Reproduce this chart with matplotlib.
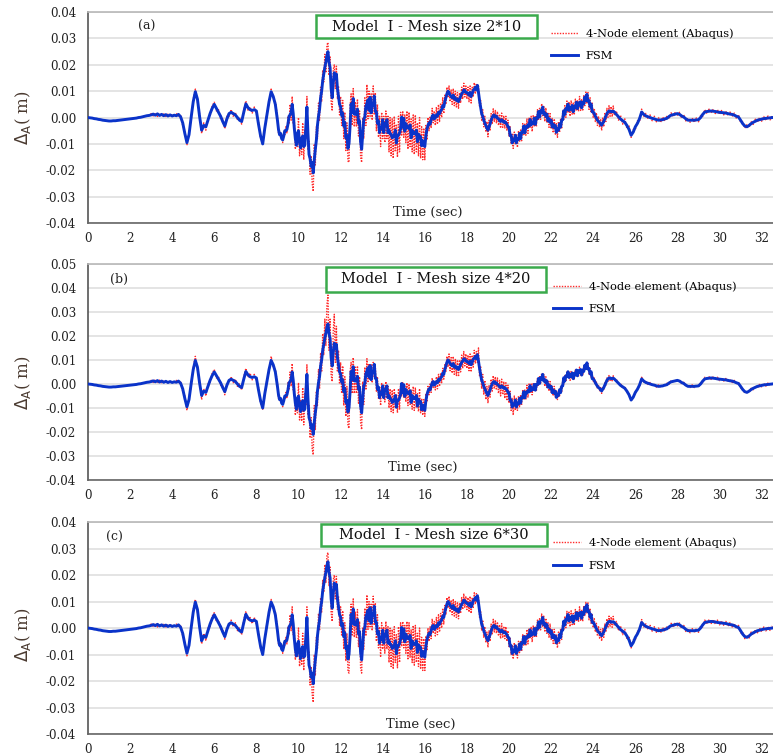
import numpy as np
import matplotlib
matplotlib.use("Agg")
import matplotlib.pyplot as plt
from matplotlib.lines import Line2D
from matplotlib.patches import Rectangle
from matplotlib.ticker import MultipleLocator, FormatStrFormatter

# Records are sampled every 0.1 s, except the strong-motion window
# 9.0-25.0 s, which is sampled every 0.05 s.
t_head = np.arange(90) * 0.1            # 0.0 .. 8.9 s
t_busy = 9.0 + np.arange(320) * 0.05    # 9.0 .. 24.95 s
t_tail = 25.0 + np.arange(76) * 0.1     # 25.0 .. 32.5 s

# ---------------- FSM displacement at point A (mm) ----------------
fsm_head = [
    0.0, -0.1, -0.2, -0.4, -0.5, -0.7, -0.8, -1.0, -1.1, -1.2,
    -1.3, -1.3, -1.2, -1.2, -1.1, -1.0, -0.9, -0.8, -0.7, -0.6,
    -0.5, -0.4, -0.3, -0.2, 0.0, 0.1, 0.3, 0.5, 0.7, 0.8,
    1.0, 1.3, 0.9, 1.4, 0.8, 1.2, 0.7, 1.1, 0.6, 1.0,
    0.6, 0.9, 0.7, 1.2, 0.3, -2.0, -6.0, -9.5, -6.5, 0.0,
    6.0, 9.8, 7.0, 0.5, -4.8, -3.0, -3.5, -1.0, 1.5, 3.5,
    5.0, 3.5, 2.0, 0.5, -1.5, -3.2, -0.5, 1.5, 2.0, 1.5,
    1.0, 0.0, -1.0, -1.5, 2.0, 5.2, 3.8, 3.0, 2.7, 3.0,
    2.5, -2.5, -7.0, -10.0, -4.0, 1.0, 6.0, 9.8, 8.0, 5.0,
]
fsm_busy = [
    -1.0, -4.5, -6.5, -6.0, -8.0, -8.5, -7.0, -5.0, -5.0, -4.5,
    -2.5, 0.5, 1.0, 2.0, 5.0, 1.5, -4.0, -8.0, -10.5, -6.0,
    -5.0, -9.5, -11.5, -8.0, -7.0, -11.0, -10.5, -3.0, 4.0, -6.0,
    -14.0, -15.5, -18.5, -17.0, -21.0, -16.0, -12.0, -8.5, -3.0, 0.5,
    3.0, 7.5, 10.0, 14.0, 16.5, 19.0, 21.0, 23.5, 25.0, 21.0,
    19.0, 11.0, 7.5, 13.0, 17.0, 15.0, 16.5, 11.0, 8.0, 5.0,
    4.2, 0.8, 1.7, -3.2, -1.8, -7.7, -6.8, -11.7, -9.8, -3.2,
    5.2, 1.8, 7.2, 1.3, 1.2, 1.3, 3.2, -2.2, -1.3, -9.2,
    -12.0, -6.2, -0.8, 0.3, 4.2, 5.3, 6.7, 2.8, 7.7, 1.8,
    5.2, 4.8, 8.2, 2.3, 2.2, -2.2, -1.3, -5.7, -3.8, -4.2,
    -0.8, -5.7, -2.3, -2.7, -0.8, -5.7, -4.8, -6.2, -6.3, -7.7,
    -7.3, -6.7, -4.8, -9.7, -6.8, -6.7, -5.8, -4.2, 0.2, -3.7,
    -0.3, -5.2, -2.3, -3.7, -3.8, -4.2, -2.8, -7.7, -4.8, -6.2,
    -5.8, -6.2, -4.8, -9.2, -6.3, -7.2, -7.3, -10.7, -8.8, -10.2,
    -11.0, -7.0, -4.5, -3.0, -2.0, -2.5, -1.0, 0.5, 1.0, -0.5,
    0.0, 1.0, 0.5, 2.0, 1.5, 2.5, 3.0, 4.5, 4.0, 6.0,
    7.5, 9.0, 10.0, 9.5, 8.5, 8.0, 7.5, 8.5, 7.0, 7.5,
    6.5, 7.0, 6.0, 7.0, 8.0, 9.0, 9.5, 10.5, 10.3, 9.5,
    9.5, 9.0, 8.5, 9.5, 8.0, 9.0, 10.3, 10.8, 11.5, 10.5,
    12.2, 9.5, 6.5, 4.0, 1.5, 0.5, -1.0, -2.0, -3.0, -4.0,
    -4.8, -3.5, -2.5, -1.0, 0.0, 0.8, 1.0, 0.2, 0.5, -0.2,
    -0.5, -1.2, -1.5, -0.8, -1.2, -1.8, -1.5, -2.0, -2.5, -3.5,
    -3.7, -6.8, -6.7, -9.6, -8.4, -8.8, -6.7, -9.6, -8.0, -8.3,
    -6.0, -8.0, -5.5, -5.6, -3.2, -5.8, -3.4, -3.8, -2.7, -3.3,
    -0.7, -2.8, -2.0, -2.3, -0.2, -2.6, -0.2, -0.3, 2.3, 0.2,
    2.6, 2.0, 4.0, 1.2, 1.8, 0.4, 1.3, -1.3, -0.4, -1.8,
    -1.0, -3.6, -2.5, -3.8, -3.0, -5.6, -4.2, -4.8, -2.4, -3.6,
    -1.0, -0.8, 2.6, 1.2, 3.4, 3.0, 5.1, 2.7, 3.8, 3.2,
    4.6, 2.2, 4.3, 3.7, 5.8, 3.4, 5.6, 4.7, 6.0, 3.7,
    5.8, 5.2, 7.8, 6.4, 8.8, 6.2, 6.4, 4.2, 5.1, 2.2,
    2.1, 1.5, 0.5, -0.2, -1.0, -1.5, -1.8, -2.5, -2.9, -2.2,
    -1.5, -0.5, 0.5, 1.5, 2.1, 2.5, 2.5, 2.2, 2.3, 2.4,
]
fsm_tail = [
    2.1, 1.2, 0.3, -0.6, -1.2, -1.8, -3.0, -4.5, -6.7, -5.5,
    -3.5, -2.2, -0.4, 2.1, 1.2, 0.6, 0.3, 0.0, -0.3, -0.5,
    -0.8, -1.0, -0.9, -0.8, -0.5, -0.3, 0.4, 0.9, 1.1, 1.3,
    1.5, 1.2, 0.6, 0.2, -0.5, -1.0, -1.0, -1.0, -1.0, -0.9,
    -0.8, 0.0, 1.2, 2.1, 2.3, 2.4, 2.5, 2.4, 2.3, 2.1,
    2.0, 1.9, 1.8, 1.7, 1.5, 1.3, 1.2, 0.9, 0.5, 0.2,
    -1.0, -2.3, -3.2, -3.5, -3.0, -2.3, -1.8, -1.4, -1.0, -0.8,
    -0.6, -0.4, -0.3, -0.2, -0.1, 0.0,
]

# ------- 4-node element (Abaqus), mesh 2*10 (mm) -------
abaqus_2x10_head = [
    0.0, -0.1, -0.2, -0.4, -0.5, -0.7, -0.8, -1.0, -1.1, -1.2,
    -1.3, -1.3, -1.2, -1.2, -1.1, -1.0, -0.9, -0.8, -0.7, -0.6,
    -0.5, -0.4, -0.3, -0.2, 0.0, 0.1, 0.3, 0.5, 0.7, 0.8,
    1.5, 0.6, 1.8, 0.4, 1.6, 0.5, 1.4, 0.4, 1.3, 0.5,
    1.2, 0.3, 1.5, 0.6, 0.8, -3.0, -5.0, -10.5, -5.5, -1.0,
    7.0, 10.8, 6.0, 1.5, -6.0, -2.0, -4.8, 0.0, 0.5, 4.5,
    5.8, 2.5, 3.0, -0.5, -0.5, -4.2, 0.5, 0.5, 3.0, 0.5,
    2.0, -1.0, 0.0, -2.5, 3.0, 6.3, 2.8, 4.0, 1.7, 4.0,
    1.5, -1.5, -8.0, -9.0, -5.0, 2.0, 5.0, 10.8, 7.0, 6.0,
]
abaqus_2x10_busy = [
    0.5, -6.0, -5.3, -7.5, -6.5, -9.5, -5.5, -6.5, -3.5, -6.0,
    0.5, -2.5, 5.0, -1.0, 8.0, -2.5, 0.0, -12.0, -6.5, -11.0,
    0.0, -14.5, -7.5, -14.0, -2.0, -16.0, -4.5, -8.0, 8.0, -12.0,
    -9.0, -21.5, -14.5, -25.0, -28.0, -10.0, -18.0, -3.5, -8.0, 5.5,
    -1.0, 11.5, 6.0, 18.0, 13.5, 24.0, 17.0, 27.5, 28.5, 16.0,
    23.0, 6.0, 2.5, 18.0, 20.0, 11.0, 19.5, 7.0, 12.0, 1.0,
    8.0, -3.0, 6.5, -8.0, 2.0, -12.5, -2.0, -16.5, -17.0, 4.0,
    9.0, -3.0, 11.0, -3.5, 6.0, -3.5, 7.0, -7.0, 2.5, -15.0,
    -17.0, 0.0, -8.0, 7.5, -3.0, 12.5, -0.5, 10.0, 0.5, 9.0,
    -1.0, 12.0, 1.0, 9.5, -5.0, 5.0, -7.5, 0.5, -11.0, 2.0,
    -8.0, 0.5, -9.5, 2.5, -8.0, 0.5, -13.0, 0.0, -14.5, -0.5,
    -15.5, 0.5, -13.0, -2.5, -15.0, 0.5, -13.0, 2.0, -7.0, 2.5,
    -7.5, 1.0, -9.5, 2.5, -12.0, 2.0, -11.0, -0.5, -13.0, 1.0,
    -14.0, 1.0, -13.0, -2.0, -14.5, 0.0, -15.5, -3.5, -16.0, -4.0,
    -16.0, -3.0, -8.5, 0.0, -5.0, 0.5, -4.0, 3.5, -2.0, 2.5,
    -3.0, 4.0, -2.5, 5.0, -1.5, 5.5, 0.0, 7.5, 1.5, 8.5,
    5.0, 11.5, 7.5, 12.0, 6.0, 10.5, 5.0, 11.0, 4.5, 10.0,
    4.0, 9.5, 3.5, 9.5, 5.5, 11.5, 7.0, 13.0, 7.8, 12.0,
    7.0, 11.5, 6.0, 12.0, 5.5, 11.5, 7.8, 13.3, 9.0, 13.0,
    9.7, 12.0, 4.0, 6.5, -1.0, 3.0, -3.5, 0.5, -5.5, -1.5,
    -7.3, -1.0, -5.0, 1.5, -2.5, 3.3, -1.5, 2.7, -2.0, 2.3,
    -3.0, 1.3, -4.0, 1.7, -3.7, 0.7, -4.0, 0.5, -5.0, -1.0,
    -7.0, -3.5, -10.0, -6.3, -11.7, -5.5, -10.0, -6.3, -11.3, -5.0,
    -9.3, -4.7, -8.8, -2.3, -6.5, -2.5, -6.7, -0.5, -6.0, 0.0,
    -4.0, 0.5, -5.3, 1.0, -3.5, 0.7, -3.5, 3.0, -1.0, 3.5,
    -0.7, 5.3, 0.7, 4.5, -1.5, 3.7, -2.0, 2.0, -3.7, 1.5,
    -4.3, -0.3, -5.8, -0.5, -6.3, -2.3, -7.5, -1.5, -5.7, -0.3,
    -4.3, 2.5, -0.7, 4.5, 0.1, 6.3, 1.8, 6.0, 0.5, 6.5,
    1.3, 5.5, 1.0, 7.0, 2.5, 6.7, 2.3, 8.0, 2.7, 7.0,
    2.5, 8.5, 4.5, 9.7, 5.5, 9.5, 3.1, 7.5, 1.8, 5.5,
    0.1, 3.5, -1.5, 1.8, -3.0, 0.5, -3.8, -0.5, -4.9, -0.2,
    -3.5, 1.5, -1.5, 3.5, 0.1, 4.5, 0.5, 4.2, 0.3, 4.4,
]
abaqus_2x10_tail = [
    0.8, 2.5, -1.0, 0.8, -2.5, -0.5, -4.2, -3.2, -7.5, -4.5,
    -4.5, -1.2, -1.4, 3.2, 0.4, 1.6, -0.5, 1.0, -1.2, 0.5,
    -1.6, 0.0, -1.8, 0.2, -1.3, 0.7, -0.4, 1.8, 0.3, 2.1,
    0.8, 2.0, -0.2, 1.0, -1.3, -0.2, -1.8, -0.2, -1.8, -0.1,
    -1.6, 0.8, 0.4, 3.0, 1.5, 3.2, 1.7, 3.2, 1.5, 3.0,
    1.2, 2.7, 1.0, 2.5, 0.7, 2.1, 0.4, 1.7, -0.3, 1.0,
    -1.8, -1.5, -4.0, -2.7, -3.8, -1.5, -2.6, -0.6, -1.8, 0.0,
    -1.4, 0.4, -1.1, 0.6, -0.9, 0.8,
]

# ------- 4-node element (Abaqus), mesh 4*20 (mm) -------
abaqus_4x20_head = [
    0.0, -0.1, -0.2, -0.4, -0.5, -0.7, -0.8, -1.0, -1.1, -1.2,
    -1.3, -1.3, -1.2, -1.2, -1.1, -1.0, -0.9, -0.8, -0.7, -0.6,
    -0.5, -0.4, -0.3, -0.2, 0.0, 0.1, 0.3, 0.5, 0.7, 0.8,
    1.5, 0.6, 1.8, 0.4, 1.6, 0.5, 1.4, 0.4, 1.3, 0.5,
    1.2, 0.3, 1.5, 0.6, 0.8, -3.0, -5.0, -11.0, -5.5, -1.0,
    7.0, 11.5, 6.0, 1.5, -6.5, -2.0, -5.0, 0.0, 0.5, 4.5,
    6.0, 2.5, 3.0, -0.5, -0.5, -4.5, 0.5, 0.5, 3.0, 0.5,
    2.0, -1.0, 0.0, -2.5, 3.0, 6.5, 2.8, 4.5, 1.7, 4.0,
    1.5, -1.5, -8.0, -10.5, -5.0, 2.0, 5.0, 11.5, 7.0, 6.0,
]
abaqus_4x20_busy = [
    0.5, -6.0, -5.3, -7.5, -6.5, -9.5, -5.5, -6.5, -3.5, -6.0,
    0.5, -2.5, 5.0, -1.0, 8.5, -2.5, 0.0, -13.0, -6.5, -12.0,
    0.5, -15.0, -7.0, -15.5, -1.5, -17.0, -4.0, -9.0, 8.0, -13.0,
    -9.0, -22.5, -14.0, -27.0, -29.5, -9.0, -19.0, -3.0, -9.0, 6.0,
    -2.0, 13.0, 5.0, 21.0, 12.0, 27.0, 16.0, 33.0, 37.0, 14.0,
    27.0, 4.0, 1.0, 22.0, 29.0, 9.0, 24.0, 5.0, 14.0, 0.0,
    9.0, -4.0, 7.5, -9.0, 3.0, -13.5, -1.0, -17.5, -18.5, 5.0,
    9.0, -4.0, 11.0, -4.0, 7.0, -4.0, 7.5, -8.0, 3.0, -16.0,
    -19.0, 1.0, -8.5, 7.0, -2.5, 10.5, 0.5, 8.5, 1.5, 8.0,
    0.5, 9.0, 3.0, 7.5, -3.0, 3.0, -6.0, -1.0, -9.0, 0.5,
    -6.0, -0.5, -7.5, 1.0, -6.0, -1.0, -10.0, -2.0, -11.5, -2.5,
    -12.0, -2.0, -10.0, -4.5, -12.0, -2.0, -10.5, 0.0, -5.0, 0.5,
    -5.5, -1.0, -7.5, 0.5, -9.0, 0.0, -8.5, -2.5, -10.5, -1.0,
    -11.0, -1.5, -10.0, -4.0, -11.5, -2.0, -12.0, -6.0, -13.0, -6.5,
    -13.5, -4.0, -7.5, -1.0, -4.5, 0.0, -3.5, 2.5, -1.5, 1.5,
    -2.5, 3.0, -2.0, 4.0, -1.0, 4.5, 0.5, 6.5, 2.0, 8.0,
    5.0, 11.5, 7.0, 12.5, 5.5, 11.0, 4.5, 11.5, 4.0, 10.5,
    3.5, 10.0, 3.0, 10.0, 5.0, 12.0, 6.5, 13.5, 7.5, 12.5,
    6.5, 12.0, 5.5, 12.5, 5.0, 12.0, 7.0, 14.0, 8.5, 13.5,
    9.0, 15.0, 3.0, 7.5, -2.0, 4.0, -4.5, 1.5, -6.5, -1.0,
    -8.0, -0.5, -5.5, 2.0, -3.0, 3.5, -2.0, 3.0, -2.5, 2.5,
    -4.0, 1.5, -5.0, 2.0, -4.5, 1.0, -6.0, 0.5, -7.0, -0.5,
    -8.0, -3.0, -11.0, -6.0, -13.0, -5.0, -11.0, -6.0, -11.0, -5.0,
    -9.5, -4.5, -8.5, -2.5, -6.5, -2.5, -6.5, -0.5, -5.5, 0.0,
    -3.5, 0.0, -4.5, 0.5, -3.0, 0.5, -3.0, 2.5, -0.5, 3.0,
    0.0, 4.5, 1.0, 4.0, -1.0, 3.0, -1.5, 1.5, -3.0, 1.0,
    -3.5, -1.0, -5.0, -1.0, -5.5, -3.0, -6.5, -2.5, -5.0, -1.0,
    -3.5, 1.5, 0.0, 3.5, 1.0, 5.0, 2.8, 5.0, 1.5, 5.5,
    2.3, 4.5, 2.0, 6.0, 3.5, 5.7, 3.3, 7.0, 3.7, 6.0,
    3.5, 7.5, 5.5, 8.7, 6.5, 8.5, 4.1, 6.5, 2.8, 4.5,
    1.0, 2.5, -0.5, 0.8, -2.0, -0.5, -2.8, -1.5, -3.9, -1.2,
    -2.5, 0.5, -0.5, 2.5, 1.1, 3.5, 1.5, 3.2, 1.3, 3.4,
]
abaqus_4x20_tail = [
    1.5, 2.0, -0.3, 0.2, -1.8, -1.0, -3.5, -3.8, -7.0, -5.0,
    -4.0, -1.8, -1.0, 2.8, 0.8, 1.2, -0.2, 0.6, -0.8, 0.1,
    -1.3, -0.4, -1.4, -0.2, -1.0, 0.3, -0.1, 1.4, 0.6, 1.8,
    1.0, 1.7, 0.2, 0.7, -1.0, -0.4, -1.5, -0.4, -1.5, -0.3,
    -1.3, 0.6, 0.6, 2.8, 1.7, 3.0, 1.9, 3.0, 1.7, 2.8,
    1.4, 2.5, 1.2, 2.3, 0.9, 1.9, 0.6, 1.5, -0.1, 0.7,
    -1.6, -1.8, -3.8, -3.0, -3.6, -1.8, -2.4, -0.8, -1.6, -0.2,
    -1.2, 0.2, -0.9, 0.4, -0.7, 0.5,
]

# mesh 6*30 gives the same trace as mesh 2*10 at this scale
abaqus_6x30_head = abaqus_2x10_head
abaqus_6x30_busy = abaqus_2x10_busy
abaqus_6x30_tail = abaqus_2x10_tail

panel_tags = ["(a)", "(b)", "(c)"]
panel_titles = ["Model  I - Mesh size 2*10",
                "Model  I - Mesh size 4*20",
                "Model  I - Mesh size 6*30"]
panel_abaqus = [
    (abaqus_2x10_head, abaqus_2x10_busy, abaqus_2x10_tail),
    (abaqus_4x20_head, abaqus_4x20_busy, abaqus_4x20_tail),
    (abaqus_6x30_head, abaqus_6x30_busy, abaqus_6x30_tail),
]
panel_ylims = [(-0.04, 0.04), (-0.04, 0.05), (-0.04, 0.04)]
x_ticks = list(range(0, 33, 2))
series_labels = ["4-Node element (Abaqus)", "FSM"]

# layout (figure fractions) and in-axes decorations
axes_rects = [
    [0.1138, 0.705, 0.8865, 0.279],
    [0.1138, 0.365, 0.8865, 0.286],
    [0.1138, 0.029, 0.8865, 0.2805],
]
tag_pos = [(0.086, 0.934), (0.045, 0.930), (0.039, 0.925)]
box_rects = [(0.333, 0.877, 0.6555, 0.986),
             (0.347, 0.870, 0.669, 0.986),
             (0.340, 0.887, 0.670, 0.991)]
legend_anchor = [(0.675, 0.846), (0.679, 0.843), (0.679, 0.849)]
time_pos = [(0.496, 0.052), (0.489, 0.060), (0.486, 0.047)]
ylabel_y = [0.5, 0.449, 0.467]

RED = "#ff2a2a"
BLUE = "#0a33c9"
GREEN = "#3aaa4c"
SERIF = "DejaVu Serif"


def to_m(head, busy, tail):
    return np.concatenate([head, busy, tail]) / 1000.0


t = np.concatenate([t_head, t_busy, t_tail])
fsm = to_m(fsm_head, fsm_busy, fsm_tail)

fig = plt.figure(figsize=(7.73, 7.56), dpi=100)

for i in range(3):
    ax = fig.add_axes(axes_rects[i])
    abaqus = to_m(*panel_abaqus[i])

    ax.plot(t, abaqus, color=RED, lw=1.0, ls=(0, (1, 1)), zorder=3)
    ax.plot(t, fsm, color=BLUE, lw=2.1, zorder=4)

    ax.set_xlim(0, 32.55)
    ax.set_ylim(*panel_ylims[i])
    ax.set_xticks(x_ticks)
    ax.yaxis.set_major_locator(MultipleLocator(0.01))
    ax.yaxis.set_major_formatter(FormatStrFormatter("%.2f"))
    ax.grid(axis="y", color="#e4e4e4", lw=1.4, zorder=0)
    ax.set_axisbelow(True)

    ax.tick_params(axis="both", length=0, labelsize=8.6, colors="#222222")
    ax.tick_params(axis="y", pad=8.5)
    ax.tick_params(axis="x", pad=6.5)
    for lab in ax.get_xticklabels() + ax.get_yticklabels():
        lab.set_family(SERIF)

    ax.spines["right"].set_visible(False)
    ax.spines["top"].set_color("#b8b8b8")
    ax.spines["left"].set_color("#555555")
    ax.spines["bottom"].set_color("#666666")
    for s in ("left", "bottom", "top"):
        ax.spines[s].set_linewidth(1.2)

    ax.set_ylabel(r"$\Delta_{\mathrm{A}}$( m)", fontsize=12,
                  family=SERIF, color="#4a3a30")
    ax.yaxis.set_label_coords(-0.080, ylabel_y[i])

    ax.text(*tag_pos[i], panel_tags[i], transform=ax.transAxes,
            fontsize=9, family=SERIF, ha="center", va="center",
            color="#222222")

    x0, y0, x1, y1 = box_rects[i]
    ax.add_patch(Rectangle((x0, y0), x1 - x0, y1 - y0, transform=ax.transAxes,
                           facecolor="white", edgecolor=GREEN, lw=1.8,
                           zorder=6))
    ax.text((x0 + x1) / 2, (y0 + y1) / 2, panel_titles[i],
            transform=ax.transAxes, fontsize=10.5, family=SERIF,
            ha="center", va="center", color="#111111", zorder=7)

    handles = [Line2D([], [], color=RED, lw=1.0, ls=(0, (1, 1))),
               Line2D([], [], color=BLUE, lw=2.1)]
    ax.legend(handles, series_labels, loc="center left",
              bbox_to_anchor=legend_anchor[i], frameon=False,
              prop={"family": SERIF, "size": 8.2}, handlelength=2.4,
              handletextpad=0.7, labelspacing=1.1, borderpad=0,
              borderaxespad=0)

    ax.text(*time_pos[i], "Time (sec)", transform=ax.transAxes,
            fontsize=9.5, family=SERIF, ha="center", va="center",
            color="#222222")

fig.savefig("out.png", dpi=100)
